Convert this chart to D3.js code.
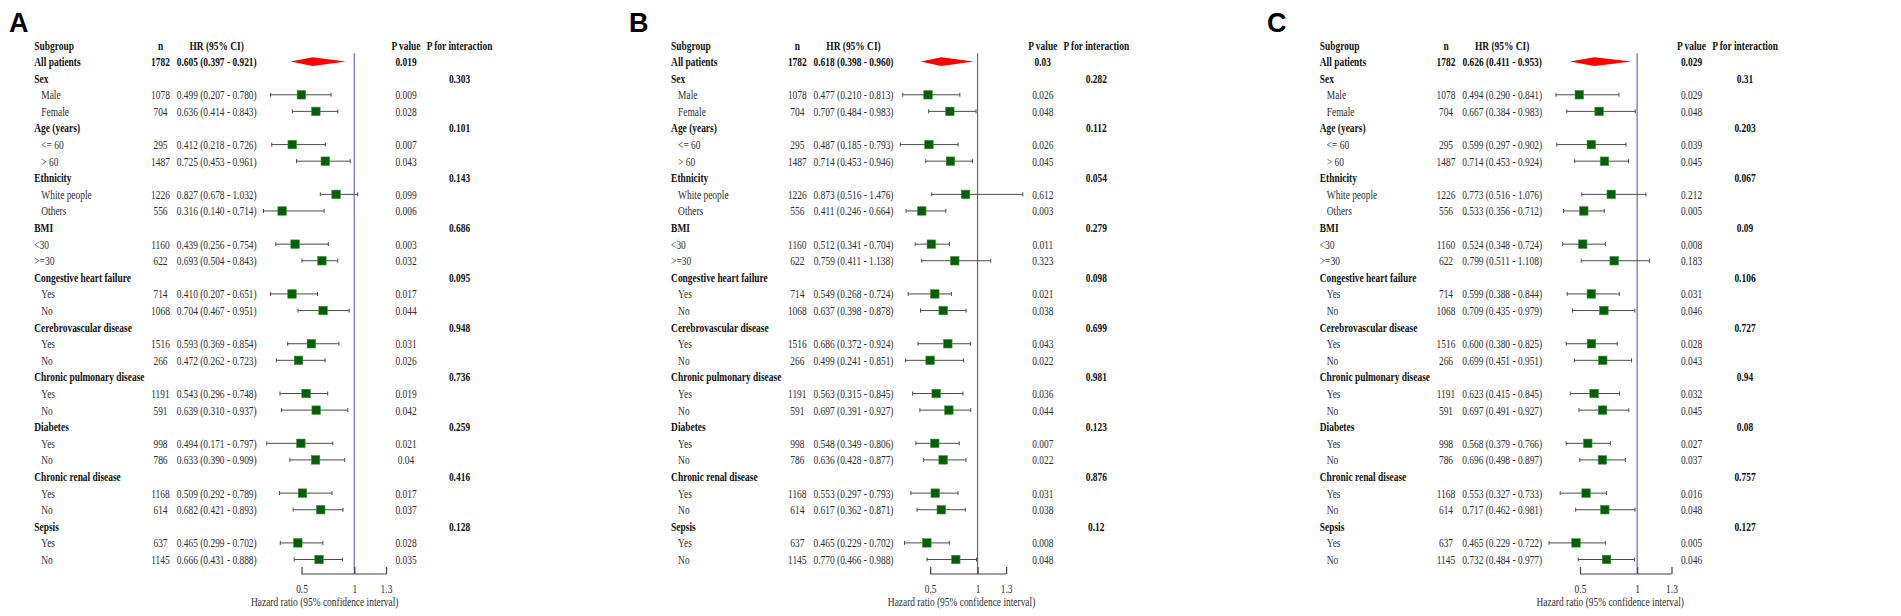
<!DOCTYPE html>
<html>
<head>
<meta charset="utf-8">
<script src="https://cdn.jsdelivr.net/npm/d3@7"></script>
<style>
  html, body { margin: 0; padding: 0; background: #fff; }
  svg { display: block; }
</style>
</head>
<body>
<svg id="chart" width="1901" height="616"></svg>
<script>
// ---------------- DATA ----------------
const panelLetters = ["A", "B", "C"];
const headers = ["Subgroup", "n", "HR (95% CI)", "P value", "P for interaction"];
// Row labels (two leading spaces = indented subgroup)
const rowLabels = [
  "All patients",
  "Sex", "  Male", "  Female",
  "Age (years)", "  <= 60", "  > 60",
  "Ethnicity", "  White people", "  Others",
  "BMI", "<30", ">=30",
  "Congestive heart failure", "  Yes", "  No",
  "Cerebrovascular disease", "  Yes", "  No",
  "Chronic pulmonary disease", "  Yes", "  No",
  "Diabetes", "  Yes", "  No",
  "Chronic renal disease", "  Yes", "  No",
  "Sepsis", "  Yes", "  No"
];
const nValues = [1782, null, 1078, 704, null, 295, 1487, null, 1226, 556, null, 1160, 622,
  null, 714, 1068, null, 1516, 266, null, 1191, 591, null, 998, 786, null, 1168, 614, null, 637, 1145];

// Panel A
const hrA    = [0.605, null, 0.499, 0.636, null, 0.412, 0.725, null, 0.827, 0.316, null, 0.439, 0.693, null, 0.410, 0.704, null, 0.593, 0.472, null, 0.543, 0.639, null, 0.494, 0.633, null, 0.509, 0.682, null, 0.465, 0.666];
const lowerA = [0.397, null, 0.207, 0.414, null, 0.218, 0.453, null, 0.678, 0.140, null, 0.256, 0.504, null, 0.207, 0.467, null, 0.369, 0.262, null, 0.296, 0.310, null, 0.171, 0.390, null, 0.292, 0.421, null, 0.299, 0.431];
const upperA = [0.921, null, 0.780, 0.843, null, 0.726, 0.961, null, 1.032, 0.714, null, 0.754, 0.843, null, 0.651, 0.951, null, 0.854, 0.723, null, 0.748, 0.937, null, 0.797, 0.909, null, 0.789, 0.893, null, 0.702, 0.888];
const pA     = ["0.019", null, "0.009", "0.028", null, "0.007", "0.043", null, "0.099", "0.006", null, "0.003", "0.032", null, "0.017", "0.044", null, "0.031", "0.026", null, "0.019", "0.042", null, "0.021", "0.04", null, "0.017", "0.037", null, "0.028", "0.035"];
const pintA  = [null, "0.303", null, null, "0.101", null, null, "0.143", null, null, "0.686", null, null, "0.095", null, null, "0.948", null, null, "0.736", null, null, "0.259", null, null, "0.416", null, null, "0.128", null, null];

// Panel B
const hrB    = [0.618, null, 0.477, 0.707, null, 0.487, 0.714, null, 0.873, 0.411, null, 0.512, 0.759, null, 0.549, 0.637, null, 0.686, 0.499, null, 0.563, 0.697, null, 0.548, 0.636, null, 0.553, 0.617, null, 0.465, 0.770];
const lowerB = [0.398, null, 0.210, 0.484, null, 0.185, 0.453, null, 0.516, 0.246, null, 0.341, 0.411, null, 0.268, 0.398, null, 0.372, 0.241, null, 0.315, 0.391, null, 0.349, 0.428, null, 0.297, 0.362, null, 0.229, 0.466];
const upperB = [0.960, null, 0.813, 0.983, null, 0.793, 0.946, null, 1.476, 0.664, null, 0.704, 1.138, null, 0.724, 0.878, null, 0.924, 0.851, null, 0.845, 0.927, null, 0.806, 0.877, null, 0.793, 0.871, null, 0.702, 0.988];
const pB     = ["0.03", null, "0.026", "0.048", null, "0.026", "0.045", null, "0.612", "0.003", null, "0.011", "0.323", null, "0.021", "0.038", null, "0.043", "0.022", null, "0.036", "0.044", null, "0.007", "0.022", null, "0.031", "0.038", null, "0.008", "0.048"];
const pintB  = [null, "0.282", null, null, "0.112", null, null, "0.054", null, null, "0.279", null, null, "0.098", null, null, "0.699", null, null, "0.981", null, null, "0.123", null, null, "0.876", null, null, "0.12", null, null];

// Panel C
const hrC    = [0.626, null, 0.494, 0.667, null, 0.599, 0.714, null, 0.773, 0.533, null, 0.524, 0.799, null, 0.599, 0.709, null, 0.600, 0.699, null, 0.623, 0.697, null, 0.568, 0.696, null, 0.553, 0.717, null, 0.465, 0.732];
const lowerC = [0.411, null, 0.290, 0.384, null, 0.297, 0.453, null, 0.516, 0.356, null, 0.348, 0.511, null, 0.388, 0.435, null, 0.380, 0.451, null, 0.415, 0.491, null, 0.379, 0.498, null, 0.327, 0.462, null, 0.229, 0.484];
const upperC = [0.953, null, 0.841, 0.983, null, 0.902, 0.924, null, 1.076, 0.712, null, 0.724, 1.108, null, 0.844, 0.979, null, 0.825, 0.951, null, 0.845, 0.927, null, 0.766, 0.897, null, 0.733, 0.981, null, 0.722, 0.977];
const pC     = ["0.029", null, "0.029", "0.048", null, "0.039", "0.045", null, "0.212", "0.005", null, "0.008", "0.183", null, "0.031", "0.046", null, "0.028", "0.043", null, "0.032", "0.045", null, "0.027", "0.037", null, "0.016", "0.048", null, "0.005", "0.046"];
const pintC  = [null, "0.31", null, null, "0.203", null, null, "0.067", null, null, "0.09", null, null, "0.106", null, null, "0.727", null, null, "0.94", null, null, "0.08", null, null, "0.757", null, null, "0.127", null, null];

const xTicks = [0.5, 1, 1.3];
const axisTitle = "Hazard ratio (95% confidence interval)";

// ---------------- LAYOUT / STYLE ----------------
const panels = [
  { letter: panelLetters[0], hr: hrA, lo: lowerA, up: upperA, p: pA, pint: pintA, dx: 0,      refColor: "#8585cc", refWidth: 1.5 },
  { letter: panelLetters[1], hr: hrB, lo: lowerB, up: upperB, p: pB, pint: pintB, dx: 636.8,  refColor: "#3a3af0", refWidth: 1.0 },
  { letter: panelLetters[2], hr: hrC, lo: lowerC, up: upperC, p: pC, pint: pintC, dx: 1285.5, refColor: "#8585cc", refWidth: 1.5 }
];
const letterX = [9, 629, 1267];
const col = { label: 34.3, indent: 41.3, n: 160.5, hr: 216.7, p: 406, pint: 459.5 };
const plotRange = [263.5, 386];
const SERIF = "'Liberation Serif','Times New Roman',serif";
const FS = 11.5, SX = 0.82;
const rowY = d3.scaleLinear().domain([0, 31]).range([45.5, 560]);
const axisY = 574;
const fmt = d3.format(".3f");

const svg = d3.select("#chart");

function txt(g, x, y, s, anchor, bold) {
  g.append("text")
    .attr("transform", `translate(${x},${y}) scale(${SX},1)`)
    .attr("text-anchor", anchor || "start")
    .attr("font-family", SERIF)
    .attr("font-size", FS)
    .attr("font-weight", bold ? "bold" : "normal")
    .attr("fill", bold ? "#111" : "#2e2e2e")
    .text(s);
}

panels.forEach((P, pi) => {
  // panel letter
  svg.append("text")
    .attr("x", letterX[pi]).attr("y", 32)
    .attr("font-family", "'Liberation Sans',Arial,sans-serif")
    .attr("font-weight", "bold").attr("font-size", 27)
    .attr("fill", "#000")
    .text(P.letter);

  const g = svg.append("g").attr("transform", `translate(${P.dx},0)`);

  const lows = P.lo.filter(v => v != null), ups = P.up.filter(v => v != null);
  const x = d3.scaleLinear()
    .domain([Math.min(d3.min(lows), xTicks[0]), Math.max(d3.max(ups), xTicks[xTicks.length - 1])])
    .range(plotRange);

  // header
  const hy = rowY(0) + 4;
  txt(g, col.label, hy, headers[0], "start", true);
  txt(g, col.n, hy, headers[1], "middle", true);
  txt(g, col.hr, hy, headers[2], "middle", true);
  txt(g, col.p, hy, headers[3], "middle", true);
  txt(g, col.pint, hy, headers[4], "middle", true);

  // reference line at HR = 1
  g.append("line")
    .attr("x1", x(1)).attr("x2", x(1))
    .attr("y1", 53.3).attr("y2", axisY)
    .attr("stroke", P.refColor).attr("stroke-width", P.refWidth);

  rowLabels.forEach((lab, i) => {
    const r = i + 1;
    const yc = rowY(r);
    const ty = yc + 4;
    const isSummary = i === 0;
    const isCategory = P.hr[i] == null;
    const indented = lab.startsWith("  ");
    const bold = isSummary || isCategory;
    txt(g, indented ? col.indent : col.label, ty, lab.trim(), "start", bold);
    if (P.pint[i] != null) txt(g, col.pint, ty, P.pint[i], "middle", true);
    if (isCategory) return;

    txt(g, col.n, ty, String(nValues[i]), "middle", bold);
    txt(g, col.hr, ty, `${fmt(P.hr[i])} (${fmt(P.lo[i])} - ${fmt(P.up[i])})`, "middle", bold);
    txt(g, col.p, ty, P.p[i], "middle", bold);

    const my = yc - 0.5;
    if (isSummary) {
      const h = 4.4;
      g.append("path")
        .attr("d", `M${x(P.lo[i])},${my} L${x(P.hr[i])},${my - h} L${x(P.up[i])},${my} L${x(P.hr[i])},${my + h} Z`)
        .attr("fill", "#ff0000");
    } else {
      g.append("line")
        .attr("x1", x(P.lo[i])).attr("x2", x(P.up[i]))
        .attr("y1", my).attr("y2", my)
        .attr("stroke", "#4d4d4d").attr("stroke-width", 1);
      [P.lo[i], P.up[i]].forEach(v => {
        g.append("line")
          .attr("x1", x(v)).attr("x2", x(v))
          .attr("y1", my - 2).attr("y2", my + 2)
          .attr("stroke", "#4d4d4d").attr("stroke-width", 1);
      });
      const s = 8.5;
      g.append("rect")
        .attr("x", x(P.hr[i]) - s / 2).attr("y", my - s / 2)
        .attr("width", s).attr("height", s)
        .attr("fill", "#056005")
        .attr("stroke", "#3f8f3f").attr("stroke-width", 0.6);
    }
  });

  // x axis
  const ax = g.append("g").attr("transform", `translate(0,${axisY})`)
    .call(d3.axisBottom(x).tickValues(xTicks).tickSize(-7).tickPadding(11).tickFormat(d => String(d)));
  ax.select(".domain").remove();
  ax.selectAll(".tick line").attr("stroke", "#444").attr("stroke-width", 1.2);
  ax.append("line")
    .attr("x1", x(xTicks[0])).attr("x2", x(xTicks[xTicks.length - 1]))
    .attr("y1", 0).attr("y2", 0)
    .attr("stroke", "#444").attr("stroke-width", 1.2);
  ax.selectAll(".tick text")
    .attr("transform", `scale(${SX},1)`)
    .attr("font-family", SERIF).attr("font-size", FS)
    .attr("fill", "#2e2e2e");

  txt(g, (plotRange[0] + plotRange[1]) / 2, 606, axisTitle, "middle", false);
});
</script>
</body>
</html>
